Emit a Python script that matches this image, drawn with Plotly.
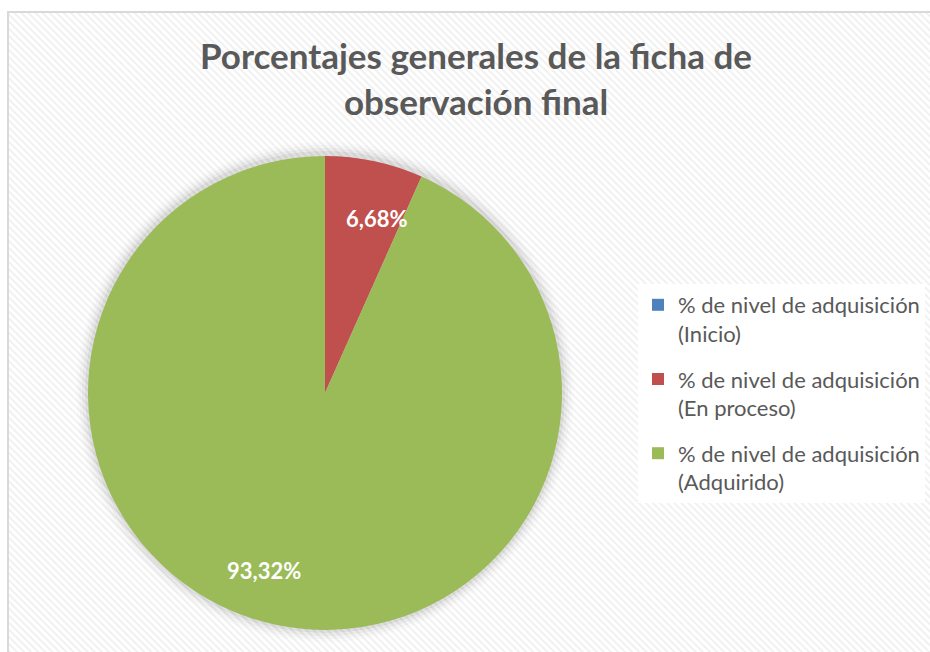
import base64
import plotly.graph_objects as go

categories = [
    "% de nivel de adquisición<br>(Inicio)",
    "% de nivel de adquisición<br>(En proceso)",
    "% de nivel de adquisición<br>(Adquirido)",
]
values = [0.0, 6.68, 93.32]
value_labels = ["", "6,68%", "93,32%"]
colors = ["#4F81BD", "#C0504D", "#9BBB59"]

W, H = 930, 652
cx, cy, r = 325, 393, 237
FONT = "Lato, Open Sans, sans-serif"

# background stripe pattern (Excel-like texture)
svg = f'''<svg xmlns="http://www.w3.org/2000/svg" width="{W}" height="{H}">
<defs><pattern id="p" patternUnits="userSpaceOnUse" width="5" height="5" patternTransform="rotate(-45)">
<rect width="5" height="5" fill="#ffffff"/><rect width="2" height="5" fill="#f1f1f1"/></pattern></defs>
<rect x="0" y="0" width="{W}" height="{H}" fill="#ffffff"/>
<rect x="8" y="12" width="{W}" height="{H}" fill="url(#p)" stroke="#d9d9d9" stroke-width="2"/>
</svg>'''
src = "data:image/svg+xml;base64," + base64.b64encode(svg.encode()).decode()

fig = go.Figure()
fig.add_trace(go.Pie(
    labels=categories,
    values=values,
    marker=dict(colors=colors, line=dict(width=0)),
    sort=False,
    direction="clockwise",
    rotation=0,
    textinfo="none",
    hoverinfo="label+percent",
    domain=dict(x=[(cx - r) / W, (cx + r) / W], y=[1 - (cy + r) / H, 1 - (cy - r) / H]),
    showlegend=False,
))

# legend entries (one per category, grouped so the legend can space them like the original)
for cat, col in zip(categories, colors):
    fig.add_trace(go.Scatter(
        x=[None], y=[None], mode="markers", name=cat, legendgroup=cat,
        marker=dict(symbol="square", size=12, color=col),
        hoverinfo="skip",
    ))

# soft shadow around pie
shapes = []
for i, op in enumerate([0.05, 0.035, 0.025, 0.015]):
    d = 3 + i * 3
    shapes.append(dict(type="circle", xref="paper", yref="paper",
                       x0=(cx - r - d) / W, x1=(cx + r + d) / W,
                       y0=1 - (cy + r + d) / H, y1=1 - (cy - r - d) / H + 2 / H,
                       fillcolor=f"rgba(0,0,0,{op})", line=dict(width=0), layer="below"))

label_pos = [None, (376, 218), (264, 570)]
annotations = []
for lbl, pos in zip(value_labels, label_pos):
    if pos is None or not lbl:
        continue
    annotations.append(dict(
        x=pos[0] / W, y=1 - pos[1] / H, xref="paper", yref="paper",
        text=f"<b>{lbl}</b>", showarrow=False,
        font=dict(family=FONT, size=22, color="white"),
        xanchor="center", yanchor="middle",
    ))

fig.update_layout(
    width=W, height=H,
    margin=dict(l=0, r=0, t=0, b=0),
    paper_bgcolor="white",
    plot_bgcolor="rgba(0,0,0,0)",
    xaxis=dict(visible=False, domain=[0.99, 1]),
    yaxis=dict(visible=False, domain=[0.99, 1]),
    images=[dict(source=src, xref="paper", yref="paper", x=0, y=1,
                 sizex=1, sizey=1, xanchor="left", yanchor="top",
                 sizing="stretch", layer="below")],
    title=dict(
        text="<b>Porcentajes generales de la ficha de<br>observación final</b>",
        x=476 / W, xanchor="center", y=1 - 69 / H, yanchor="middle",
        font=dict(family=FONT, size=35, color="#595959"),
    ),
    legend=dict(
        x=638 / W, y=1 - 284 / H, xanchor="left", yanchor="top",
        bgcolor="white", valign="top",
        font=dict(family=FONT, size=22, color="#595959"),
        itemwidth=30, tracegroupgap=14,
    ),
    shapes=shapes,
    annotations=annotations,
)

fig.write_html(
    "out.html",
    config={"displayModeBar": False},
    post_script="document.body.style.margin='0';document.body.style.overflow='hidden';",
)
